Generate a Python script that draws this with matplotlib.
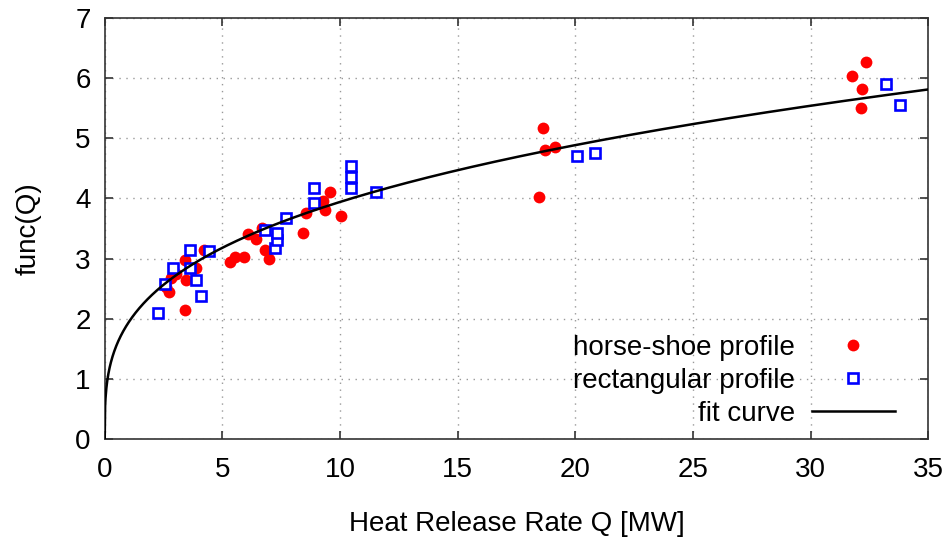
import numpy as np
import matplotlib
matplotlib.use("Agg")
import matplotlib.pyplot as plt

plt.rcParams['font.family'] = ['Liberation Sans', 'DejaVu Sans']

# horse-shoe profile measurements (Q in MW, func(Q))
hs_q = [2.6, 2.72, 2.8, 3.02, 3.4, 3.45, 3.4, 3.9, 4.2,
        5.32, 5.53, 5.91, 6.08, 6.42, 6.68, 6.8, 6.98,
        8.42, 8.55, 8.93, 9.27, 9.36, 9.57, 10.04,
        18.46, 18.63, 18.7, 19.14,
        31.77, 32.15, 32.2, 32.37]
hs_f = [2.52, 2.44, 2.68, 2.74, 2.14, 2.65, 2.98, 2.85, 3.15,
        2.94, 3.02, 3.02, 3.40, 3.33, 3.50, 3.15, 2.99,
        3.42, 3.76, 3.90, 3.96, 3.81, 4.11, 3.70,
        4.03, 5.17, 4.81, 4.86,
        6.04, 5.50, 5.82, 6.27]

# rectangular profile measurements
rc_q = [2.27, 2.57, 2.9, 3.62, 3.64, 3.9, 4.1, 4.45,
        6.8, 7.23, 7.32, 7.32, 7.7, 8.89, 8.89,
        10.46, 10.46, 10.48, 11.53,
        20.08, 20.84, 33.2, 33.8]
rc_f = [2.10, 2.57, 2.85, 2.85, 3.15, 2.65, 2.38, 3.12,
        3.48, 3.17, 3.30, 3.43, 3.68, 3.93, 4.18,
        4.53, 4.36, 4.18, 4.11,
        4.71, 4.76, 5.90, 5.56]

# fit curve func(Q) = a * Q^b
fit_a = 1.93
fit_b = 0.31

fig = plt.figure(figsize=(9.52, 5.42), dpi=100)
ax = fig.add_axes([0.110, 0.190, 0.865, 0.777])

q = np.linspace(0, 35, 2000)
ax.plot(hs_q, hs_f, 'o', color='#ff0000', markersize=8.5, markeredgewidth=0,
        label='horse-shoe profile', zorder=3)
ax.plot(rc_q, rc_f, 's', color='#0000ff', markerfacecolor='white', markersize=6.5,
        markeredgewidth=1.9, label='rectangular profile', zorder=4)
ax.plot(q, fit_a * q ** fit_b, color='black', lw=1.8, label='fit curve', zorder=5)

ax.set_xlim(0, 35)
ax.set_ylim(0, 7)
ax.set_xticks(range(0, 36, 5))
ax.set_yticks(range(0, 8))
ax.tick_params(direction='in', length=6, width=1.2, labelsize=20, pad=10,
               top=True, right=True, color='#333333')
ax.tick_params(axis='x', pad=13)
ax.grid(True, linestyle=(0, (1, 4)), color='#999999', lw=1)
for s in ax.spines.values():
    s.set_linewidth(1.2)
    s.set_color('#333333')

ax.set_xlabel('Heat Release Rate Q [MW]', fontsize=20, labelpad=20)
ax.set_ylabel('func(Q)', fontsize=20, labelpad=24)

leg = ax.legend(loc='lower right', bbox_to_anchor=(0.99, -0.03), frameon=False,
                markerfirst=False, fontsize=20, handlelength=3.0,
                handletextpad=0.6, labelspacing=0.25)

fig.savefig('out.png', dpi=100)
